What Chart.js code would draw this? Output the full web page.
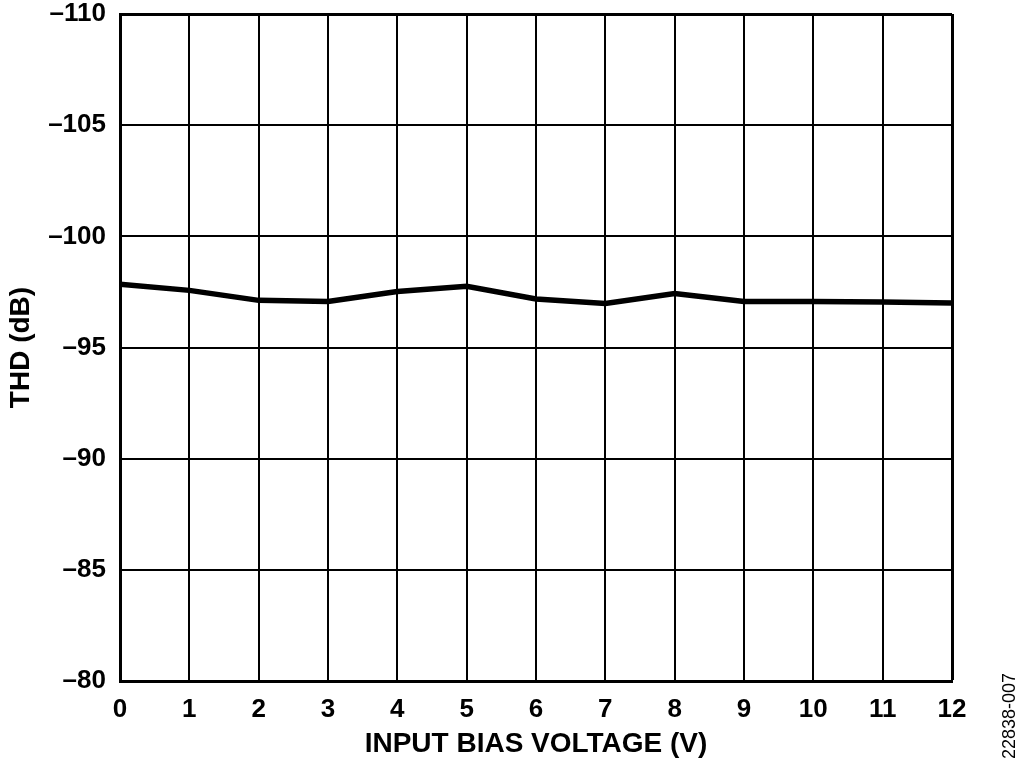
<!DOCTYPE html>
<html><head><meta charset="utf-8">
<script src="https://cdn.jsdelivr.net/npm/chart.js@4/dist/chart.umd.min.js"></script>
<style>html,body{margin:0;padding:0;background:#fff;}canvas{display:block;}</style>
</head><body>
<canvas id="c" width="1024" height="765"></canvas>
<script>
const biasVoltage = [0,1,2,3,4,5,6,7,8,9,10,11,12];
const thdValues = [-97.84,-97.57,-97.12,-97.07,-97.52,-97.75,-97.18,-96.98,-97.43,-97.07,-97.07,-97.05,-97.0];
const yTicks = [-110,-105,-100,-95,-90,-85,-80];
const xTitle = 'INPUT BIAS VOLTAGE (V)';
const yTitle = 'THD (dB)';
const figureId = '22838-007';

const FONT = "'Liberation Sans', Arial, Helvetica, sans-serif";

const sideNote = {
  id: 'sideNote',
  afterDraw(chart) {
    const ctx = chart.ctx;
    ctx.save();
    ctx.translate(1010, 759);
    ctx.rotate(-Math.PI / 2);
    ctx.font = "18px " + FONT;
    ctx.fillStyle = '#000';
    ctx.textAlign = 'left';
    ctx.textBaseline = 'middle';
    ctx.fillText(figureId, 0, 0);
    ctx.restore();
  }
};

new Chart(document.getElementById('c'), {
  type: 'line',
  data: {
    datasets: [{
      data: biasVoltage.map((x, i) => ({x: x, y: thdValues[i]})),
      borderColor: '#000',
      borderWidth: 5.5,
      pointRadius: 0,
      tension: 0,
      fill: false
    }]
  },
  options: {
    responsive: false,
    animation: false,
    devicePixelRatio: 1,
    layout: {padding: {left: 0, top: 14, right: 72, bottom: 0}},
    plugins: {legend: {display: false}, tooltip: {enabled: false}},
    scales: {
      x: {
        type: 'linear',
        min: 0, max: 12,
        afterFit(s) { s.height = 84; s.paddingLeft = 0; s.paddingRight = 0; },
        afterBuildTicks(s) { s.ticks = biasVoltage.map(v => ({value: v})); },
        grid: {color: '#000', drawTicks: false,
          lineWidth: c => (c.index === biasVoltage.length - 1 ? 3 : 2)},
        border: {color: '#000', width: 3},
        ticks: {color: '#000', font: {family: FONT, size: 26, weight: 'bold', lineHeight: 1.2}, padding: 13, maxRotation: 0, autoSkip: false},
        title: {display: true, text: xTitle, color: '#000', font: {family: FONT, size: 28, weight: 'bold', lineHeight: 1.2}, padding: {top: 0, bottom: 4}}
      },
      y: {
        type: 'linear',
        min: -110, max: -80,
        reverse: true,
        afterFit(s) { s.width = 120; s.paddingTop = 0; s.paddingBottom = 0; },
        afterBuildTicks(s) { s.ticks = yTicks.map(v => ({value: v})); },
        grid: {color: '#000', drawTicks: false,
          lineWidth: c => (c.index === 0 ? 3 : 2)},
        border: {color: '#000', width: 3},
        ticks: {color: '#000', font: {family: FONT, size: 26, weight: 'bold', lineHeight: 1.0}, padding: 14,
          callback: v => String(v).replace('-', '\u2013')},
        title: {display: true, text: yTitle, color: '#000', font: {family: FONT, size: 28, weight: 'bold', lineHeight: 1.2}, padding: {top: 4, bottom: 0}}
      }
    }
  },
  plugins: [sideNote]
});
</script>
</body></html>
